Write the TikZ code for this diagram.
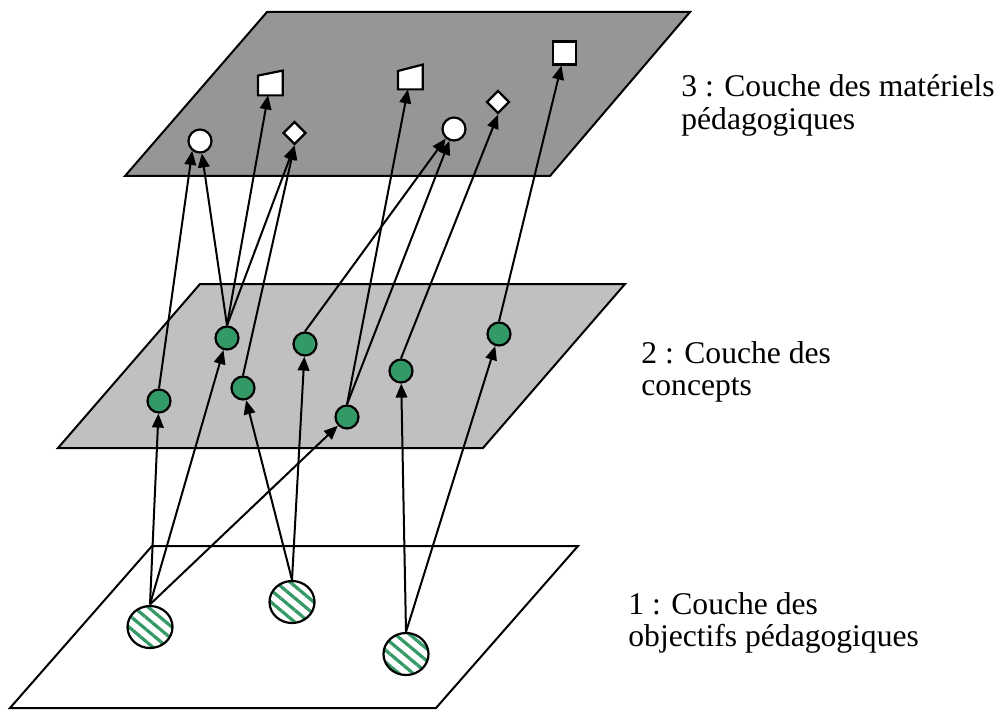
\documentclass[tikz,border=0pt]{standalone}
\usepackage{fontspec}
\setmainfont{Liberation Serif}
\usetikzlibrary{shapes.geometric,arrows.meta,patterns.meta}
\definecolor{sea}{HTML}{339966}
\definecolor{topgray}{HTML}{969696}
\definecolor{midgray}{HTML}{C0C0C0}
\begin{document}
\begin{tikzpicture}[x=0.5pt,y=-0.5pt,
  plane/.style={draw=black,line width=1pt,line join=miter},
  objnode/.style={ellipse,draw=black,line width=1.1pt,minimum width=22.5pt,minimum height=21pt,inner sep=0pt,
    pattern={Lines[angle=-40,distance=4.6pt,line width=1.6pt]},pattern color=sea},
  concept/.style={circle,draw=black,line width=1.1pt,fill=sea,minimum size=11.5pt,inner sep=0pt},
  matcircle/.style={circle,draw=black,line width=1.1pt,fill=white,minimum size=11.5pt,inner sep=0pt},
  matdiamond/.style={diamond,draw=black,line width=1.1pt,fill=white,minimum width=11.5pt,minimum height=11.5pt,inner sep=0pt},
  matsquare/.style={rectangle,draw=black,line width=1.1pt,fill=white,minimum size=11.5pt,inner sep=0pt},
  matbox/.style={rectangle,minimum width=12pt,minimum height=12pt,inner sep=0pt},
  matshape/.style={draw=black,line width=1.1pt,fill=white,line join=miter},
  arr/.style={-{Triangle[length=7pt,width=5.8pt]},line width=1pt,draw=black},
  lbl/.style={anchor=north west,align=left,inner sep=0pt,font=\fontsize{15.8pt}{16.3pt}\selectfont}
]
\useasboundingbox (0,0) rectangle (1000,711);

% planes
\draw[plane,fill=topgray] (267,12) -- (690,12) -- (550,176) -- (125,176) -- cycle;
\draw[plane,fill=midgray] (200,284) -- (625,284) -- (483,448) -- (58,448) -- cycle;
\draw[plane,fill=white] (152,546) -- (578,546) -- (436,708) -- (10,708) -- cycle;

% labels
\node[lbl] (l3) at (681,74.5) {3 : Couche des matériels\\pédagogiques};
\node[lbl] (l2) at (641,341) {2 : Couche des\\concepts};
\node[lbl] (l1) at (628,592) {1 : Couche des\\objectifs pédagogiques};

% objectives
\node[objnode] (e1) at (150,627) {};
\node[objnode] (e2) at (292,602) {};
\node[objnode] (e3) at (406,654) {};

% concepts
\node[concept] (c1) at (159,401) {};
\node[concept] (c2) at (227,338) {};
\node[concept] (c3) at (243,388) {};
\node[concept] (c4) at (305,344) {};
\node[concept] (c5) at (347,417) {};
\node[concept] (c6) at (401,371) {};
\node[concept] (c7) at (499,334) {};

% materials
\node[matcircle] (t1) at (200,141) {};
\node[matcircle] (t2) at (454,129) {};
\node[matdiamond] (d1) at (294.5,133) {};
\node[matdiamond] (d2) at (498,102) {};
\node[matsquare] (s1) at (564.5,53) {};
\node[matbox] (q1) at (270.3,83) {};
\node[matbox] (q2) at (410.3,77) {};
\draw[matshape] (q1.south west) -- (q1.south east) -- (q1.north east) -- ([yshift=-2.5pt]q1.north west) -- cycle;
\draw[matshape] (q2.south west) -- (q2.south east) -- (q2.north east) -- ([yshift=-3.2pt]q2.north west) -- cycle;

% objectives -> concepts
\draw[arr] (e1.north) -- (c1);
\draw[arr] (e1.north) -- (c2);
\draw[arr] (e1.north) -- (c5);
\draw[arr] (e2.north) -- (c3);
\draw[arr] (e2.north) -- (c4);
\draw[arr] (e3.north) -- (c6);
\draw[arr] (e3.north) -- (c7);

% concepts -> materials
\draw[arr] (c1.north) -- (t1.232);
\draw[arr] (c2.north) -- (t1);
\draw[arr] (c2.north) -- (q1);
\draw[arr] (c2.north) -- (d1.south);
\draw[arr] (c3.north) -- (d1.south);
\draw[arr] (c4.north) -- (t2.229);
\draw[arr] (c5.north) -- (t2);
\draw[arr] (c5.north) -- (q2);
\draw[arr] (c6.north) -- (d2.south);
\draw[arr] (c7.north) -- (s1);
\end{tikzpicture}
\end{document}
